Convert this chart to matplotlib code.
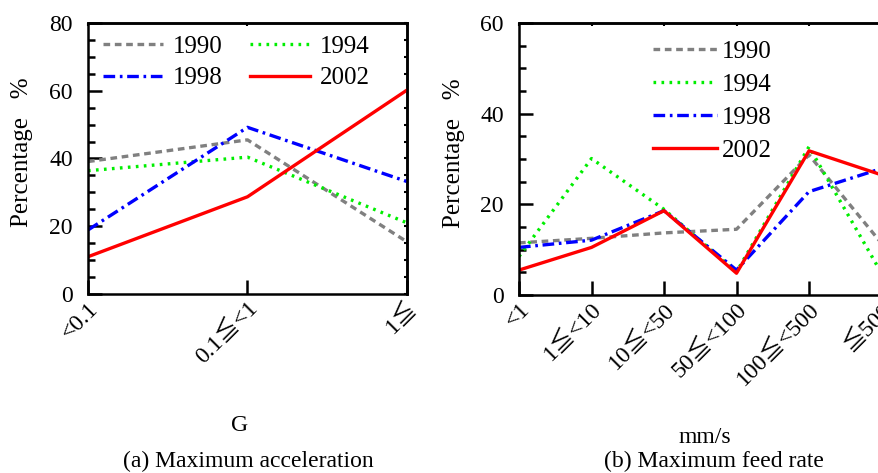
import matplotlib
matplotlib.use("Agg")
import matplotlib.pyplot as plt
from matplotlib.ticker import MultipleLocator

plt.rcParams['font.family'] = ['Liberation Serif', 'Noto Sans CJK JP']
plt.rcParams['font.size'] = 17

years = ["1990", "1994", "1998", "2002"]

acc_categories = ["<0.1", "0.1≦<1", "1≦"]
acc_1990 = [39.1, 45.5, 15.4]
acc_1994 = [36.4, 40.4, 21.0]
acc_1998 = [18.9, 49.2, 33.2]
acc_2002 = [11.0, 28.7, 60.2]

feed_categories = ["<1", "1≦<10", "10≦<50", "50≦<100", "100≦<500", "≦500"]
feed_1990 = [11.5, 12.5, 13.7, 14.5, 30.9, 11.4]
feed_1994 = [8.5, 30.1, 18.9, 5.1, 32.7, 4.8]
feed_1998 = [10.5, 12.1, 18.6, 5.5, 22.8, 27.9]
feed_2002 = [5.5, 10.5, 18.6, 4.8, 31.8, 26.5]

styles = {
    "1990": dict(color="#808080", linestyle=(0, (2.0, 1.4))),
    "1994": dict(color="#00ee00", linestyle=(0, (0.8, 1.6))),
    "1998": dict(color="#0000ff", linestyle=(0, (3.5, 1.4, 0.8, 1.4))),
    "2002": dict(color="#ff0000", linestyle="-"),
}
LW = 2.4

fig = plt.figure(figsize=(8.79, 4.73), dpi=100)
W, H = 879, 473

def add_ax(x0, x1, y0, y1):
    return fig.add_axes([x0 / W, 1 - y1 / H, (x1 - x0) / W, (y1 - y0) / H])

ax1 = add_ax(88, 407, 23, 294)
ax2 = add_ax(519, 881.5, 23, 295)

def style_axis(ax, cats, ymax, ymajor):
    ax.set_xlim(0, len(cats) - 1)
    ax.set_ylim(0, ymax)
    ax.set_xticks(range(len(cats)))
    ax.set_xticklabels(cats, rotation=45, ha='right', va='top', rotation_mode='anchor')
    ax.yaxis.set_major_locator(MultipleLocator(ymajor))
    ax.yaxis.set_minor_locator(MultipleLocator(5))
    for s in ax.spines.values():
        s.set_linewidth(1.8)
    ax.tick_params(axis='x', which='major', direction='in', length=10, width=1.8,
                   top=False, pad=3)
    ax.tick_params(axis='y', which='major', direction='in', length=10, width=1.8,
                   right=False, pad=11)
    ax.tick_params(axis='y', which='minor', direction='in', length=5, width=1.8, right=False)
    # tiny ticks on the right and top sides
    sy = ax.secondary_yaxis('right')
    sy.yaxis.set_major_locator(MultipleLocator(5))
    sy.tick_params(direction='in', length=2, width=1.5, labelright=False)
    sy.spines['right'].set_linewidth(1.8)
    sx = ax.secondary_xaxis('top')
    sx.set_xticks(range(len(cats)))
    sx.tick_params(direction='in', length=2, width=1.5, labeltop=False)
    sx.spines['top'].set_linewidth(1.8)

style_axis(ax1, acc_categories, 80, 20)
style_axis(ax2, feed_categories, 60, 20)

acc_series = [acc_1990, acc_1994, acc_1998, acc_2002]
feed_series = [feed_1990, feed_1994, feed_1998, feed_2002]
lines1 = {}
for yr, vals in zip(years, acc_series):
    lines1[yr], = ax1.plot(range(len(acc_categories)), vals, lw=LW, label=yr, **styles[yr])
for yr, vals in zip(years, feed_series):
    ax2.plot(range(len(feed_categories)), vals, lw=LW, label=yr, **styles[yr])

# legends
order = ["1990", "1998", "1994", "2002"]
ax1.legend([lines1[k] for k in order], order, ncol=2, loc='upper left',
           bbox_to_anchor=(0.047, 0.955), frameon=False,
           handlelength=2.4, handletextpad=0.4, columnspacing=1.1, labelspacing=0.37,
           borderpad=0, borderaxespad=0, fontsize=18)
h, l = ax2.get_legend_handles_labels()
ax2.legend(h, l, ncol=1, loc='upper left', bbox_to_anchor=(0.369, 0.936), frameon=False,
           handlelength=2.55, handletextpad=0.2, labelspacing=0.42,
           borderpad=0, borderaxespad=0, fontsize=18)

fig.text(22 / W, 1 - 152 / H, "Percentage   %", rotation=90, ha='center', va='center', fontsize=18)
fig.text(454 / W, 1 - 153 / H, "Percentage   %", rotation=90, ha='center', va='center', fontsize=18)
fig.text(240 / W, 1 - 425 / H, "G", ha='center', va='center')
fig.text(705 / W, 1 - 437 / H, "mm/s", ha='center', va='center')
fig.text(248 / W, 1 - 461 / H, "(a) Maximum acceleration", ha='center', va='center')
fig.text(714 / W, 1 - 461 / H, "(b) Maximum feed rate", ha='center', va='center')

fig.savefig("out.png", dpi=100)
